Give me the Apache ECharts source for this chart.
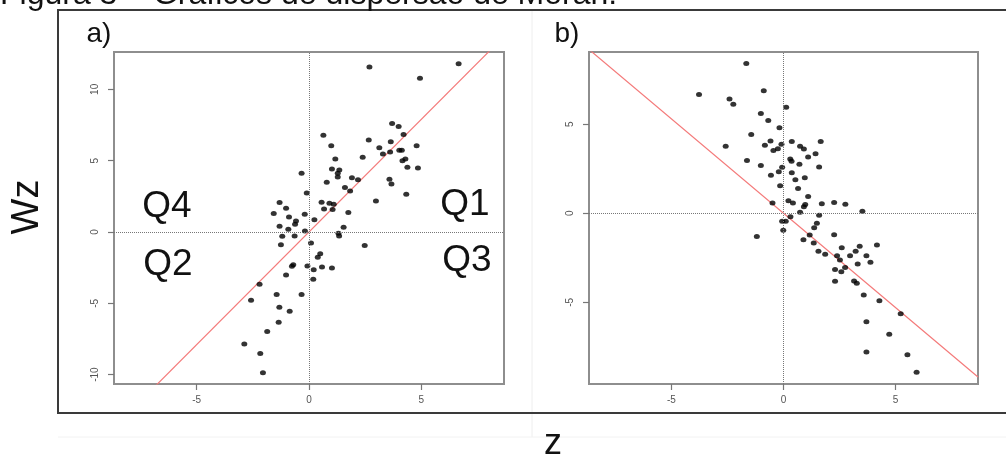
<!DOCTYPE html>
<html>
<head>
<meta charset="utf-8">
<script src="https://cdn.jsdelivr.net/npm/echarts@6/dist/echarts.min.js"></script>
<style>
  html, body { margin: 0; padding: 0; background: #fff; }
  #chart { width: 1006px; height: 455px; }
</style>
</head>
<body>
<div id="chart"></div>
<script>
// ticks and axis limits
const xTicks = [-5, 0, 5];
const yTicksA = [-10, -5, 0, 5, 10];
const yTicksB = [-5, 0, 5];
const xRange = [-8.68, 8.68];
const yRangeA = [-10.66, 12.62];
const yRangeB = [-9.59, 9.06];

// slope of the red Moran line
const slopeA = 1.58;
const slopeB = -1.06;

// panel a) z and Wz
const zA = [3.70, 3.99, 4.21, 0.64, 2.66, 3.64, 4.79, 0.99, 3.13, 3.61,
  3.29, 4.02, 4.13, 2.39, 1.17, 4.29, 4.16, 1.02, 1.35, 1.28,
  1.28, 4.38, 4.85, -0.33, 1.91, 2.18, 0.79, 3.58, 3.67, 1.60,
  1.83, -0.10, 4.33, 2.98, -1.31, 0.56, 0.91, 1.10, -1.02, 0.67,
  1.05, -1.57, -0.89, -0.19, 1.75, 0.24, -0.58, -0.62, -1.31, -0.92,
  -0.18, 1.54, -1.19, -0.64, 1.31, 1.34, -1.25, 0.09, 2.48, 0.50,
  0.39, -0.70, -0.76, -0.07, 0.58, 1.02, 0.21, -1.02, 0.19, -2.20,
  -1.44, -0.33, -2.58, -1.32, -0.86, -1.35, -1.86, 2.69, 6.66, 4.94,
  -2.88, -2.17, -2.05];
const wzA = [7.60, 7.39, 6.83, 6.78, 6.45, 6.33, 6.05, 6.05, 5.91, 5.61,
  5.47, 5.73, 5.73, 5.24, 5.12, 5.12, 5.00, 4.42, 4.35, 4.11,
  3.86, 4.53, 4.49, 4.11, 3.81, 3.67, 3.48, 3.69, 3.37, 3.11,
  2.88, 2.73, 2.64, 2.17, 2.06, 2.08, 2.01, 1.94, 1.66, 1.61,
  1.57, 1.29, 1.05, 1.24, 1.36, 0.86, 0.77, 0.54, 0.40, 0.19,
  0.07, 0.33, -0.30, -0.28, -0.09, -0.28, -0.89, -0.77, -0.94, -1.52,
  -1.78, -2.29, -2.41, -2.38, -2.45, -2.52, -2.64, -3.02, -3.32, -3.67,
  -4.39, -4.39, -4.79, -5.28, -5.56, -6.33, -6.97, 11.57, 11.80, 10.78,
  -7.85, -8.53, -9.87];

// panel b) z and Wz
const zB = [-1.66, -3.77, -0.88, -2.41, -2.24, 0.12, -1.01, -0.68, -0.18, -1.44,
  -0.58, 0.37, 1.66, -2.58, -0.83, -0.09, 0.74, 0.91, -0.25, -0.45,
  1.43, 1.10, 0.30, 0.36, -1.63, -1.01, -0.06, 0.71, 1.59, -0.21,
  -0.56, 0.37, 0.53, 0.95, -0.15, 0.65, 1.10, -0.49, 0.22, 0.42,
  0.91, 0.97, 1.71, 2.26, 2.76, 0.74, 3.52, 1.59, 0.31, -0.06,
  0.10, 1.49, 1.37, -0.01, 1.17, -1.19, 2.26, 0.89, 1.35, 2.60,
  3.40, 4.17, 1.56, 1.86, 3.22, 2.97, 2.39, 3.70, 2.52, 3.31,
  3.88, 2.75, 2.30, 2.58, 3.15, 3.27, 2.30, 3.58, 4.28, 5.23,
  3.70, 4.72, 3.70, 5.53, 5.94];
const wzB = [8.41, 6.67, 6.89, 6.42, 6.12, 5.96, 5.60, 5.21, 4.81, 4.42,
  4.06, 4.03, 4.03, 3.76, 3.82, 3.88, 3.76, 3.61, 3.63, 3.52,
  3.35, 3.16, 3.05, 2.92, 2.96, 2.68, 2.58, 2.75, 2.60, 2.34,
  2.13, 2.27, 1.89, 1.99, 1.54, 1.39, 0.94, 0.58, 0.71, 0.58,
  0.37, 0.49, 0.54, 0.60, 0.51, 0.06, 0.11, -0.11, -0.19, -0.45,
  -0.45, -0.56, -0.81, -0.96, -1.22, -1.31, -1.20, -1.48, -1.67, -1.93,
  -1.85, -1.78, -2.13, -2.30, -2.13, -2.38, -2.38, -2.38, -2.62, -2.85,
  -2.75, -3.05, -3.16, -3.28, -3.80, -3.93, -3.82, -4.59, -4.91, -5.64,
  -6.10, -6.80, -7.79, -7.94, -8.93];

const frameColor = '#8e8e8e';
const tickColor = '#777';
const labelColor = '#555';
const font = 'Liberation Sans, Arial, sans-serif';

function xAxisFor(gridIndex) {
    return {
        type: 'value', gridIndex: gridIndex,
        min: xRange[0], max: xRange[1],
        splitLine: { show: false },
        axisLine: { show: true, onZero: false, lineStyle: { color: frameColor, width: 2 } },
        axisTick: { show: true, customValues: xTicks, length: 6, lineStyle: { color: tickColor, width: 1.2 } },
        axisLabel: { customValues: xTicks, margin: 11, fontSize: 10, color: labelColor, fontFamily: font }
    };
}

function yAxisFor(gridIndex, range, ticks) {
    return {
        type: 'value', gridIndex: gridIndex,
        min: range[0], max: range[1],
        splitLine: { show: false },
        axisLine: { show: true, onZero: false, lineStyle: { color: frameColor, width: 2 } },
        axisTick: { show: true, customValues: ticks, length: 6, lineStyle: { color: tickColor, width: 1.2 } },
        axisLabel: { customValues: ticks, rotate: 90, margin: 14, fontSize: 10, color: labelColor, fontFamily: font }
    };
}

function pairs(xs, ys) {
    return xs.map((v, i) => [v, ys[i]]);
}

function moranLine(slope) {
    return [[xRange[0], slope * xRange[0]], [xRange[1], slope * xRange[1]]];
}

const refLines = {
    silent: true, symbol: 'none', animation: false,
    label: { show: false },
    lineStyle: { type: 'dotted', color: '#777', width: 1 },
    data: [{ xAxis: 0 }, { yAxis: 0 }]
};

const chart = echarts.init(document.getElementById('chart'), null, { renderer: 'canvas' });

const option = {
    animation: false,
    backgroundColor: '#fff',
    grid: [
        { left: 114, top: 52, width: 390, height: 332, show: true, borderColor: frameColor, borderWidth: 2 },
        { left: 589, top: 52, width: 389, height: 332, show: true, borderColor: frameColor, borderWidth: 2 }
    ],
    xAxis: [xAxisFor(0), xAxisFor(1)],
    yAxis: [yAxisFor(0, yRangeA, yTicksA), yAxisFor(1, yRangeB, yTicksB)],
    series: [
        {
            type: 'line', xAxisIndex: 0, yAxisIndex: 0, z: 1,
            data: moranLine(slopeA), showSymbol: false, clip: true,
            lineStyle: { color: '#f47a7a', width: 1.2 }
        },
        {
            type: 'scatter', xAxisIndex: 0, yAxisIndex: 0, z: 3,
            data: pairs(zA, wzA), symbol: 'circle', symbolSize: [6, 5],
            itemStyle: { color: '#000' },
            markLine: refLines
        },
        {
            type: 'line', xAxisIndex: 1, yAxisIndex: 1, z: 1,
            data: moranLine(slopeB), showSymbol: false, clip: true,
            lineStyle: { color: '#f47a7a', width: 1.2 }
        },
        {
            type: 'scatter', xAxisIndex: 1, yAxisIndex: 1, z: 3,
            data: pairs(zB, wzB), symbol: 'circle', symbolSize: [6, 5],
            itemStyle: { color: '#000' },
            markLine: refLines
        }
    ],
    graphic: [
        // outer box of the figure and faint page lines
        { type: 'line', shape: { x1: 532, y1: 11, x2: 532, y2: 437 }, style: { stroke: '#eeeeee', lineWidth: 1 }, z: 0 },
        { type: 'line', shape: { x1: 58, y1: 437, x2: 1006, y2: 437 }, style: { stroke: '#f2f2f2', lineWidth: 1 }, z: 0 },
        { type: 'rect', shape: { x: 58, y: 10, width: 960, height: 403 }, style: { fill: null, stroke: '#3a3a3a', lineWidth: 2 }, z: 0 },
        // caption, cut at the top
        { type: 'text', x: 0, y: -5, style: { text: 'Figura 3 – Gráficos de dispersão de Moran.', font: '32px ' + font, fill: '#111', verticalAlign: 'middle', align: 'left' } },
        { type: 'text', x: 99, y: 34, style: { text: 'a)', font: '28px ' + font, fill: '#111', align: 'center', verticalAlign: 'middle' } },
        { type: 'text', x: 567, y: 34, style: { text: 'b)', font: '28px ' + font, fill: '#111', align: 'center', verticalAlign: 'middle' } },
        { type: 'text', x: 28, y: 207, rotation: Math.PI / 2, style: { text: 'Wz', font: '38px ' + font, fill: '#111', align: 'center', verticalAlign: 'middle' } },
        { type: 'text', x: 553, y: 444, style: { text: 'z', font: '36px ' + font, fill: '#111', align: 'center', verticalAlign: 'middle' } },
        { type: 'text', x: 167, y: 207, style: { text: 'Q4', font: '37px ' + font, fill: '#111', align: 'center', verticalAlign: 'middle' } },
        { type: 'text', x: 465, y: 205, style: { text: 'Q1', font: '37px ' + font, fill: '#111', align: 'center', verticalAlign: 'middle' } },
        { type: 'text', x: 168, y: 265, style: { text: 'Q2', font: '37px ' + font, fill: '#111', align: 'center', verticalAlign: 'middle' } },
        { type: 'text', x: 467, y: 261, style: { text: 'Q3', font: '37px ' + font, fill: '#111', align: 'center', verticalAlign: 'middle' } }
    ]
};

chart.setOption(option);
</script>
</body>
</html>
